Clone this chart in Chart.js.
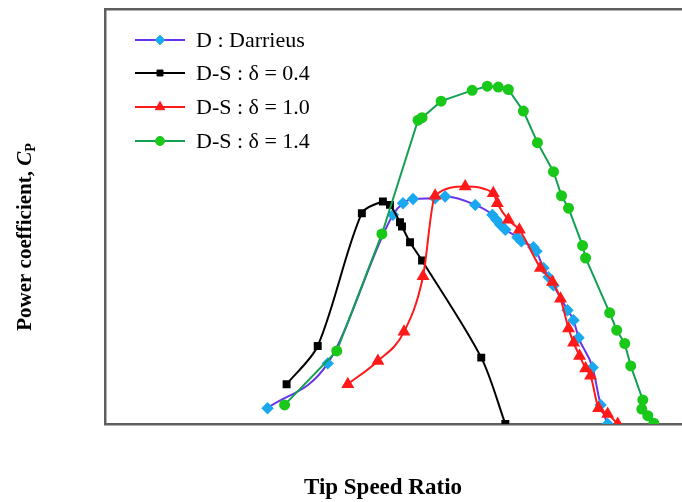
<!DOCTYPE html>
<html>
<head>
<meta charset="utf-8">
<script src="https://cdn.jsdelivr.net/npm/chart.js@4.4.1/dist/chart.umd.min.js"></script>
<style>
html,body{margin:0;padding:0;background:#fff;overflow:hidden;}
#wrap{width:720px;height:502px;position:relative;}
</style>
</head>
<body>
<div id="wrap"><canvas id="c"></canvas></div>
<script>
// Tip speed ratio (x) and power coefficient (y)
const tsrDarrieus = [0.405,0.555,0.7175,0.7425,0.7675,0.8225,0.8475,0.9225,0.965,0.975,0.985,0.9975,1.0275,1.0375,1.0675,1.075,1.0925,1.105,1.1175,1.1525,1.1675,1.18,1.215,1.235,1.2525];
const cpDarrieus  = [0.019,0.073,0.252,0.266,0.271,0.272,0.274,0.264,0.252,0.246,0.240,0.234,0.225,0.220,0.213,0.208,0.188,0.177,0.167,0.137,0.125,0.104,0.068,0.023,0.0];

const tsrDS04 = [0.4525,0.53,0.64,0.6925,0.71,0.735,0.74,0.76,0.79,0.9375,0.9975];
const cpDS04  = [0.048,0.094,0.254,0.268,0.264,0.243,0.238,0.219,0.197,0.080,0.0];

const tsrDS10 = [0.605,0.68,0.745,0.7925,0.8225,0.8975,0.9675,0.9775,1.005,1.0325,1.085,1.115,1.135,1.155,1.1675,1.1825,1.1975,1.21,1.23,1.2525,1.2775];
const cpDS10  = [0.048,0.076,0.111,0.178,0.275,0.286,0.278,0.266,0.246,0.234,0.188,0.171,0.151,0.115,0.098,0.082,0.067,0.058,0.019,0.012,0.0];

const tsrDS14 = [0.4475,0.5775,0.69,0.78,0.79,0.8375,0.915,0.9525,0.98,1.005,1.0425,1.0775,1.1175,1.1375,1.155,1.19,1.1975,1.2575,1.275,1.295,1.31,1.34,1.3375,1.3525,1.3675];
const cpDS14  = [0.023,0.088,0.229,0.366,0.369,0.389,0.402,0.407,0.406,0.403,0.377,0.339,0.304,0.275,0.260,0.215,0.200,0.134,0.113,0.097,0.070,0.029,0.018,0.010,0.001];

const seriesNames = ['D : Darrieus','D-S : δ = 0.4','D-S : δ = 1.0','D-S : δ = 1.4'];
const xTitle = 'Tip Speed Ratio';
const yTitleMain = 'Power coefficient, ';
const yTitleSym = 'C';
const yTitleSub = 'P';

function pts(xs, ys){ return xs.map((x,i)=>({x:x, y:ys[i]})); }

const SERIF = '"Liberation Serif", "Times New Roman", serif';

const datasets = [
  {label:seriesNames[0], data:pts(tsrDarrieus,cpDarrieus), borderColor:'#6633ee', backgroundColor:'#1aa8ee', pointBorderColor:'#1aa8ee', pointStyle:'rectRot', pointRadius:4.8, borderWidth:2, cubicInterpolationMode:'monotone', order:4},
  {label:seriesNames[1], data:pts(tsrDS04,cpDS04), borderColor:'#000000', backgroundColor:'#000000', pointBorderColor:'#000000', pointStyle:'rect', pointRadius:4.2, borderWidth:2, tension:0.3, order:3},
  {label:seriesNames[2], data:pts(tsrDS10,cpDS10), borderColor:'#ff1a1a', backgroundColor:'#ff1a1a', pointBorderColor:'#ff1a1a', pointStyle:'triangle', pointRadius:5.5, borderWidth:2, cubicInterpolationMode:'monotone', order:2},
  {label:seriesNames[3], data:pts(tsrDS14,cpDS14), borderColor:'#13a050', backgroundColor:'#19c819', pointBorderColor:'#19c819', pointStyle:'circle', pointRadius:4.5, borderWidth:2, tension:0, order:1}
];

const customText = {
  id:'customText',
  afterDraw(chart){
    const ctx = chart.ctx;
    ctx.save();
    // legend inside chart area
    const ys = [40,73,107,141];
    chart.data.datasets.forEach((ds,i)=>{
      const y = ys[i];
      ctx.strokeStyle = ds.borderColor;
      ctx.lineWidth = 2;
      ctx.beginPath(); ctx.moveTo(135,y); ctx.lineTo(185,y); ctx.stroke();
      ctx.fillStyle = ds.backgroundColor; ctx.strokeStyle = ds.pointBorderColor;
      ctx.lineWidth = 1;
      Chart.helpers.drawPoint(ctx, {pointStyle:ds.pointStyle, radius:ds.pointRadius, borderWidth:1}, 160, y);
      ctx.fillStyle = '#000';
      ctx.font = '22px ' + SERIF;
      ctx.textBaseline = 'middle';
      ctx.textAlign = 'left';
      ctx.fillText(ds.label, 196, y+1);
    });
    // x title
    ctx.font = 'bold 23px ' + SERIF;
    ctx.textAlign = 'center';
    ctx.textBaseline = 'middle';
    ctx.fillStyle = '#000';
    ctx.fillText(xTitle, 383, 488);
    // y title rotated with subscript
    ctx.translate(24, 237);
    ctx.rotate(-Math.PI/2);
    ctx.textAlign = 'left';
    ctx.textBaseline = 'alphabetic';
    const fMain = 'bold 21px ' + SERIF, fSym = 'italic bold 21px ' + SERIF, fSub = 'bold 14px ' + SERIF;
    ctx.font = fMain; const w1 = ctx.measureText(yTitleMain).width;
    ctx.font = fSym; const w2 = ctx.measureText(yTitleSym).width;
    ctx.font = fSub; const w3 = ctx.measureText(yTitleSub).width;
    let x0 = -(w1+w2+w3)/2;
    const base = 7;
    ctx.font = fMain; ctx.fillText(yTitleMain, x0, base);
    ctx.font = fSym; ctx.fillText(yTitleSym, x0+w1, base);
    ctx.font = fSub; ctx.fillText(yTitleSub, x0+w1+w2, base+4);
    ctx.restore();
  }
};

new Chart(document.getElementById('c'), {
  type:'line',
  data:{datasets:datasets},
  options:{
    responsive:true,
    maintainAspectRatio:false,
    animation:false,
    layout:{padding:{left:105, top:9, right:13, bottom:78}},
    plugins:{legend:{display:false}, tooltip:{enabled:false}},
    scales:{
      x:{type:'linear', position:'bottom', min:0, max:1.5,
         ticks:{display:false}, grid:{display:false, drawTicks:false},
         border:{display:true, color:'#5e5e5e', width:2.5}},
      xTop:{type:'linear', position:'top', min:0, max:1.5,
         ticks:{display:false}, grid:{display:false, drawTicks:false},
         border:{display:true, color:'#5e5e5e', width:2.5}},
      y:{type:'linear', position:'left', min:0, max:0.5,
         ticks:{display:false}, grid:{display:false, drawTicks:false},
         border:{display:true, color:'#5e5e5e', width:2.5}}
    }
  },
  plugins:[customText]
});
</script>
</body>
</html>
